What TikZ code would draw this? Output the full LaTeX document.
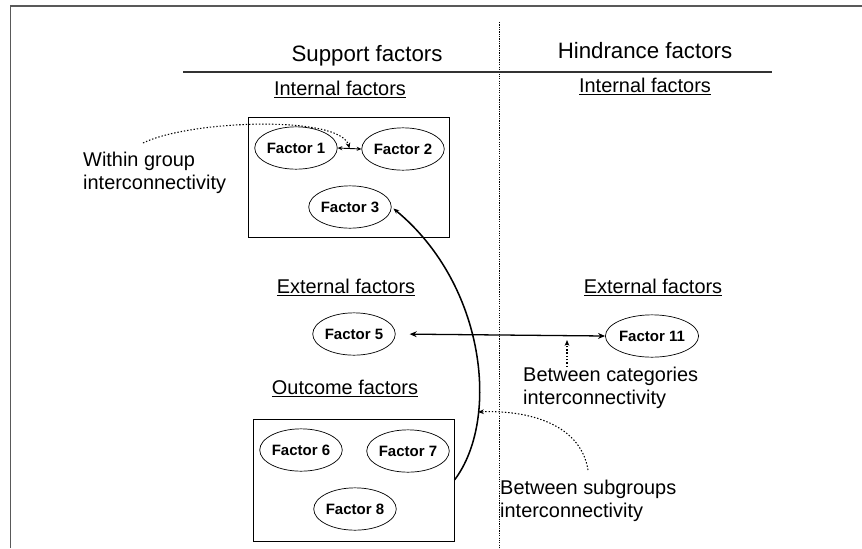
\documentclass[tikz,border=0pt]{standalone}
\usepackage{fontspec}
\setmainfont{Liberation Sans}
\usetikzlibrary{shapes.geometric,arrows.meta}

\begin{document}
\begin{tikzpicture}[x=0.03cm, y=-0.03cm,
    factor/.style={draw, shape=ellipse, inner sep=0pt, line width=0.6pt, minimum width=2.35cm, minimum height=1.27cm, font=\fontsize{12.8}{14}\selectfont\bfseries},
    head/.style={anchor=base, font=\fontsize{19}{22}\selectfont},
    group/.style={anchor=base, font=\fontsize{17}{20}\selectfont},
    note/.style={anchor=west, align=left, inner sep=0pt, font=\fontsize{17}{19.6}\selectfont},
    link/.style={dash pattern=on 1.2pt off 1.6pt, line width=0.9pt},
    tip/.style={-{Stealth[length=5pt,width=4pt]}}]
    \useasboundingbox (0,0) rectangle (862,548);
    % frame and header
    \draw[gray!70!black, line width=1.4pt] (10.5,548) -- (10.5,6) -- (862,6);
    \draw[dash pattern=on 1pt off 1pt, line width=0.6pt] (499,22) -- (499,548);
    \draw[line width=1.2pt, black!80] (183,72) -- (772,72);
    \node [head] (S) at (367,61) {Support factors};
    \node [head] (H) at (645,58) {Hindrance factors};

    % support side
    \node [group] (IN) at (340,95) {\underline{Internal factors}};
    \node [draw, line width=0.8pt, minimum width=6.03cm, minimum height=3.6cm] (inbox) at (348.5,177) {};
    \node [factor] (f1) at (296,148) {Factor 1};
    \node [factor, minimum width=2.4cm] (f2) at (403,149) {Factor 2};
    \node [factor] (f3) at (350,207) {Factor 3};

    \node [group] (EX) at (346,293) {\underline{External factors}};
    \node [factor] (f5) at (354,334) {Factor 5};

    \node [group] (OUT) at (345,394) {\underline{Outcome factors}};
    \node [draw, line width=0.8pt, minimum width=6.03cm, minimum height=3.66cm] (outbox) at (353.5,480) {};
    \node [factor] (f6) at (301,450) {Factor 6};
    \node [factor] (f7) at (408,451) {Factor 7};
    \node [factor] (f8) at (355,509) {Factor 8};

    % hindrance side
    \node [group] (IN2) at (645,92) {\underline{Internal factors}};
    \node [group] (EX2) at (653,293) {\underline{External factors}};
    \node [factor] (f11) at (652,336) {Factor 11};

    % notes
    \node [note] (wg) at (83,173) {Within group\\interconnectivity};
    \node [note] (bc) at (523,388) {Between categories\\interconnectivity};
    \node [note] (bs) at (500,501) {Between subgroups\\interconnectivity};

    % links
    \draw [{Stealth[length=4pt,width=3.5pt]}-{Stealth[length=4pt,width=3.5pt]}, line width=0.8pt] (f1.east) -- coordinate (m12) (f2.east -| f2.west);
    \draw [{Stealth[length=6pt,width=5pt]}-{Stealth[length=6pt,width=5pt]}, line width=1.1pt, shorten <=12pt] (f5.east) -- (f11.west);
    \draw [tip, line width=1.3pt, shorten >=2pt] (outbox.east) .. controls (500,420) and (486,285) .. (f3.east);

    \coordinate (wgstart) at (143,143);
    \coordinate (bcstart) at (567,367);
    \coordinate (bcend) at (567,340);
    \coordinate (bsstart) at (588,470);
    \coordinate (bsend) at (478,412);
    \draw [link, tip] (wgstart) .. controls (190,120) and (340,115) .. (m12);
    \draw [link, tip] (bcstart) -- (bcend);
    \draw [link, tip] (bsstart) .. controls (580,420) and (520,410) .. (bsend);
\end{tikzpicture}
\end{document}
